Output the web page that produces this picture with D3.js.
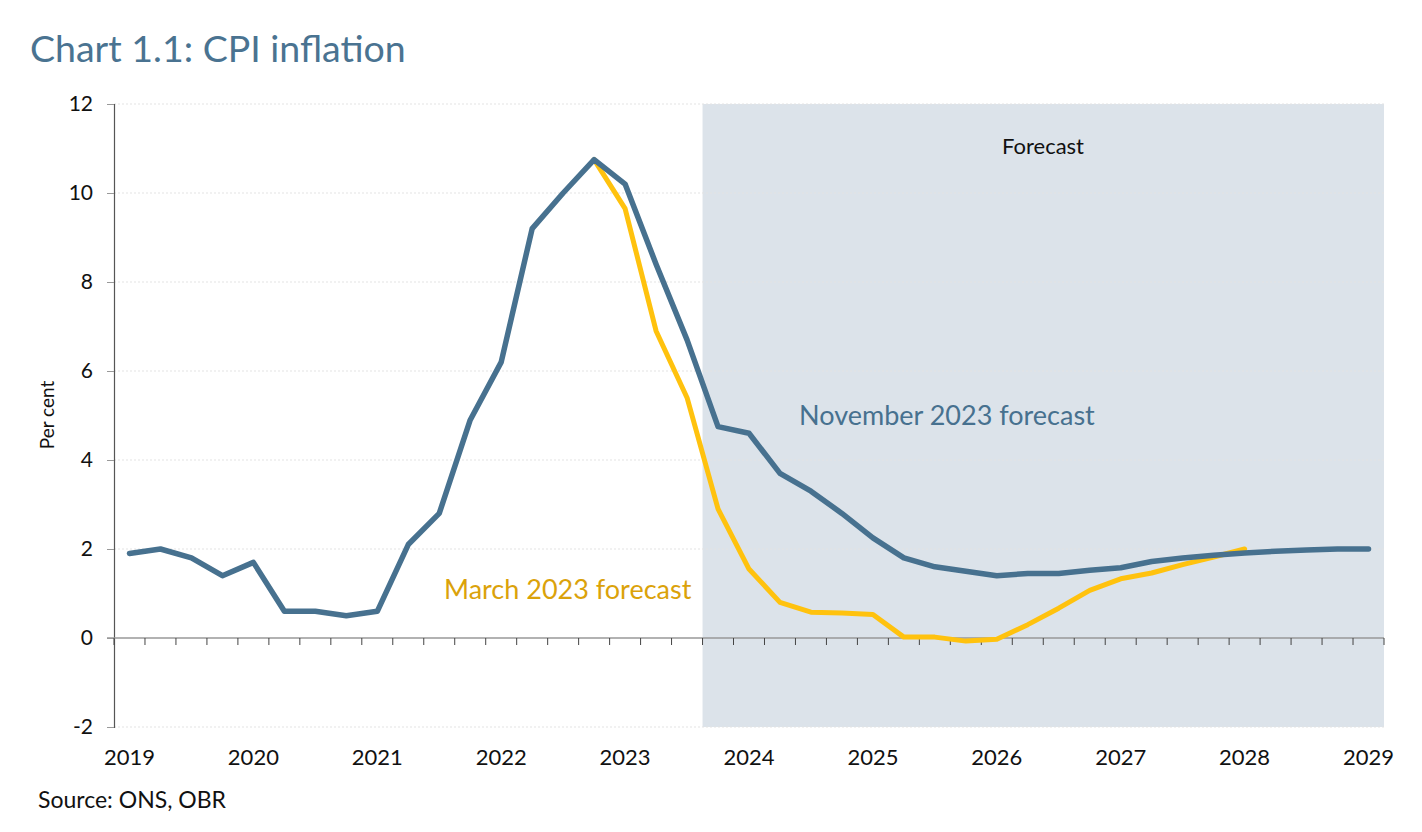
<!DOCTYPE html>
<html>
<head>
<meta charset="utf-8">
<script src="https://cdn.jsdelivr.net/npm/d3@7"></script>
<style>
  body { margin: 0; background: #fff; }
  text { font-family: "Lato", "DejaVu Sans", sans-serif; }
</style>
</head>
<body>
<div id="chart"></div>
<script>
// quarters 2019Q1 .. 2029Q1
var quarters = [];
for (var yr = 2019; yr <= 2029; yr++) {
    for (var q = 1; q <= 4; q++) {
        if (yr == 2029 && q > 1) break;
        quarters.push(yr + "Q" + q);
    }
}

// outturn + November 2023 forecast (one value per quarter)
var novValues = [1.9, 2.0, 1.8, 1.4, 1.7, 0.6, 0.6, 0.5, 0.6, 2.1,
                 2.8, 4.9, 6.2, 9.2, 10.0, 10.75, 10.2, 8.4, 6.7, 4.75,
                 4.6, 3.7, 3.3, 2.8, 2.25, 1.8, 1.6, 1.5, 1.4, 1.45,
                 1.45, 1.52, 1.58, 1.72, 1.8, 1.86, 1.91, 1.95, 1.98, 2.0,
                 2.0];

// March 2023 forecast, starts at 2022Q4
var marStart = "2022Q4";
var marValues = [10.75, 9.65, 6.9, 5.4, 2.9, 1.55, 0.8, 0.58, 0.56, 0.53,
                 0.02, 0.02, -0.07, -0.03, 0.3, 0.67, 1.07, 1.33, 1.46, 1.65,
                 1.82, 2.0];

var forecastStart = "2023Q4";
var yTicks = [-2, 0, 2, 4, 6, 8, 10, 12];
var yearLabels = ["2019", "2020", "2021", "2022", "2023", "2024", "2025", "2026", "2027", "2028", "2029"];

var w = 1422, h = 832;
var margin = {left: 114, right: 38, top: 104, bottom: 105};

var blue = "#47718f";
var gold = "#ffc20e";

var svg = d3.select("#chart")
            .append("svg")
            .attr("width", w)
            .attr("height", h);

var xScale = d3.scaleBand()
                .domain(quarters)
                .range([margin.left, w - margin.right]);

var yScale = d3.scaleLinear()
                .domain([-2, 12])
                .range([h - margin.bottom, margin.top]);

var xc = function(q) { return xScale(q) + xScale.bandwidth() / 2; };

// title
svg.append("text")
    .attr("x", 30)
    .attr("y", 62)
    .attr("fill", "#4a7391")
    .attr("font-size", "37.5px")
    .text("Chart 1.1: CPI inflation");

// forecast shading
svg.append("rect")
    .attr("x", xScale(forecastStart))
    .attr("y", yScale(12))
    .attr("width", xScale.range()[1] - xScale(forecastStart))
    .attr("height", yScale(-2) - yScale(12))
    .attr("fill", "#dce3ea");

// gridlines
svg.append("g")
    .selectAll("line")
    .data(yTicks.filter(function(d) { return d != 0; }))
    .enter()
    .append("line")
    .attr("x1", margin.left)
    .attr("x2", w - margin.right)
    .attr("y1", function(d) { return yScale(d); })
    .attr("y2", function(d) { return yScale(d); })
    .attr("stroke", "#e3e3e3")
    .attr("stroke-dasharray", "2,2")
    .attr("stroke-width", 1);

// y axis (plain hyphen for negatives, like the original)
var yAxis = svg.append("g")
    .attr("transform", "translate(" + margin.left + ",0)")
    .call(d3.axisLeft(yScale)
            .tickValues(yTicks)
            .tickFormat(function(d) { return String(d); })
            .tickSize(7)
            .tickPadding(14));
yAxis.select(".domain").attr("stroke", "#555").attr("stroke-width", 1.2);
yAxis.selectAll(".tick line").attr("stroke", "#999");
yAxis.selectAll(".tick text")
    .attr("font-size", "21px")
    .attr("fill", "#111")
    .style("font-family", "Lato, 'DejaVu Sans', sans-serif");

// zero line with quarter ticks
var xAxis = svg.append("g")
    .attr("transform", "translate(0," + yScale(0) + ")");
xAxis.append("line")
    .attr("x1", margin.left - 7)
    .attr("x2", w - margin.right)
    .attr("stroke", "#999")
    .attr("stroke-width", 1.5);
xAxis.selectAll(".qtick")
    .data(quarters.concat(["end"]))
    .enter()
    .append("line")
    .attr("class", "qtick")
    .attr("x1", function(d, i) { return i < quarters.length ? xScale(d) : xScale.range()[1]; })
    .attr("x2", function(d, i) { return i < quarters.length ? xScale(d) : xScale.range()[1]; })
    .attr("y1", 0)
    .attr("y2", 7)
    .attr("stroke", "#444")
    .attr("stroke-width", 1);

// year labels
svg.append("g")
    .selectAll("text")
    .data(yearLabels)
    .enter()
    .append("text")
    .attr("x", function(d) { return xc(d + "Q1"); })
    .attr("y", 765)
    .attr("text-anchor", "middle")
    .attr("font-size", "22px")
    .attr("fill", "#111")
    .text(function(d) { return d; });

// y label
svg.append("text")
    .attr("transform", "translate(54,415)rotate(-90)")
    .attr("text-anchor", "middle")
    .attr("font-size", "19px")
    .attr("fill", "#111")
    .text("Per cent");

// lines
var line = d3.line()
    .x(function(d) { return xc(d.q); })
    .y(function(d) { return yScale(d.v); });

var s0 = quarters.indexOf(marStart);
var marData = marValues.map(function(v, i) { return {q: quarters[s0 + i], v: v}; });
var novData = novValues.map(function(v, i) { return {q: quarters[i], v: v}; });

svg.append("path")
    .datum(marData)
    .attr("d", line)
    .attr("fill", "none")
    .attr("stroke", gold)
    .attr("stroke-width", 5)
    .attr("stroke-linejoin", "round")
    .attr("stroke-linecap", "round");

svg.append("path")
    .datum(novData)
    .attr("d", line)
    .attr("fill", "none")
    .attr("stroke", blue)
    .attr("stroke-width", 5.5)
    .attr("stroke-linejoin", "round")
    .attr("stroke-linecap", "round");

// annotations
svg.append("text")
    .attr("x", 1043)
    .attr("y", 154)
    .attr("text-anchor", "middle")
    .attr("font-size", "22px")
    .attr("fill", "#111")
    .text("Forecast");

svg.append("text")
    .attr("x", 799)
    .attr("y", 425)
    .attr("font-size", "27px")
    .attr("fill", blue)
    .text("November 2023 forecast");

svg.append("text")
    .attr("x", 444)
    .attr("y", 599)
    .attr("font-size", "27px")
    .attr("fill", "#dba20a")
    .text("March 2023 forecast");

// source
svg.append("text")
    .attr("x", 38)
    .attr("y", 808)
    .attr("font-size", "23px")
    .attr("fill", "#111")
    .text("Source: ONS, OBR");
</script>
</body>
</html>
